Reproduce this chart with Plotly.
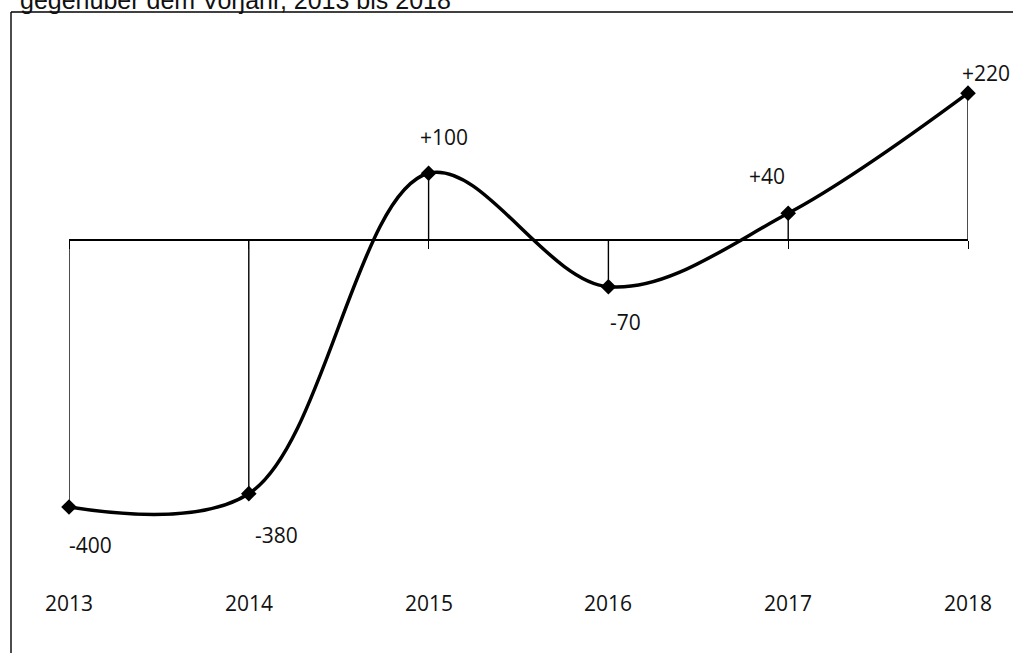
import plotly.graph_objects as go

years = [2013, 2014, 2015, 2016, 2017, 2018]
values = [-400, -380, 100, -70, 40, 220]
labels = ["-400", "-380", "+100", "-70", "+40", "+220"]
title_text = "gegenüber dem Vorjahr, 2013 bis 2018"

W, H = 1013, 653
# pixel layout helpers
x_left_px, x_right_px = 69, 968
zero_px = 240
px_per_unit = 0.6675

ymax = zero_px / px_per_unit
ymin = ymax - H / px_per_unit

def paper_y(py):
    return 1 - py / H

fig = go.Figure()

# drop lines from zero axis to each point
dx, dy = [], []
for x, v in zip(years, values):
    dx += [x, x, None]
    dy += [0, v, None]
fig.add_trace(go.Scatter(x=dx, y=dy, mode="lines",
                         line=dict(color="black", width=1.4),
                         hoverinfo="skip", showlegend=False))

# smoothed line with diamond markers
fig.add_trace(go.Scatter(x=years, y=values, mode="lines+markers",
                         line=dict(color="black", width=3.5, shape="spline", smoothing=1),
                         marker=dict(symbol="diamond", size=12, color="black"),
                         showlegend=False, cliponaxis=False))

label_shifts = [(21, -38), (28, -41), (15, 36), (17, -35), (-21, 37), (18, 20)]
font_main = dict(family="Open Sans, Lato, sans-serif", size=21, color="#111111")

annotations = []
for x, v, t, (sx, sy) in zip(years, values, labels, label_shifts):
    annotations.append(dict(x=x, y=v, xref="x", yref="y", text=t, showarrow=False,
                            xshift=sx, yshift=sy, font=font_main,
                            xanchor="center", yanchor="middle"))
for x in years:
    annotations.append(dict(x=x, y=paper_y(603), xref="x", yref="paper", text=str(x),
                            showarrow=False, font=font_main,
                            xanchor="center", yanchor="middle"))
annotations.append(dict(x=18 / W, y=paper_y(16), xref="paper", yref="paper",
                        text=title_text, showarrow=False, xanchor="left", yanchor="bottom",
                        font=dict(family="Liberation Sans, Arial, sans-serif", size=25,
                                  color="#111111")))

shapes = [
    dict(type="line", xref="paper", yref="paper", x0=11 / W, x1=1, y0=paper_y(12), y1=paper_y(12),
         line=dict(color="black", width=1.4)),
    dict(type="line", xref="paper", yref="paper", x0=11 / W, x1=11 / W, y0=paper_y(12), y1=0,
         line=dict(color="black", width=1.4)),
]

zero_paper = (0 - ymin) / (ymax - ymin)

fig.update_layout(
    width=W, height=H,
    margin=dict(l=0, r=0, t=0, b=0),
    paper_bgcolor="white", plot_bgcolor="white",
    xaxis=dict(domain=[x_left_px / W, x_right_px / W], range=[2013, 2018],
               anchor="free", position=zero_paper,
               showline=True, linecolor="black", linewidth=1.6,
               ticks="outside", ticklen=8, tickcolor="black", tickwidth=1.4,
               tickvals=years, showticklabels=False, showgrid=False, zeroline=False),
    yaxis=dict(domain=[0, 1], range=[ymin, ymax], visible=False),
    annotations=annotations,
    shapes=shapes,
)

fig.write_html("out.html")
